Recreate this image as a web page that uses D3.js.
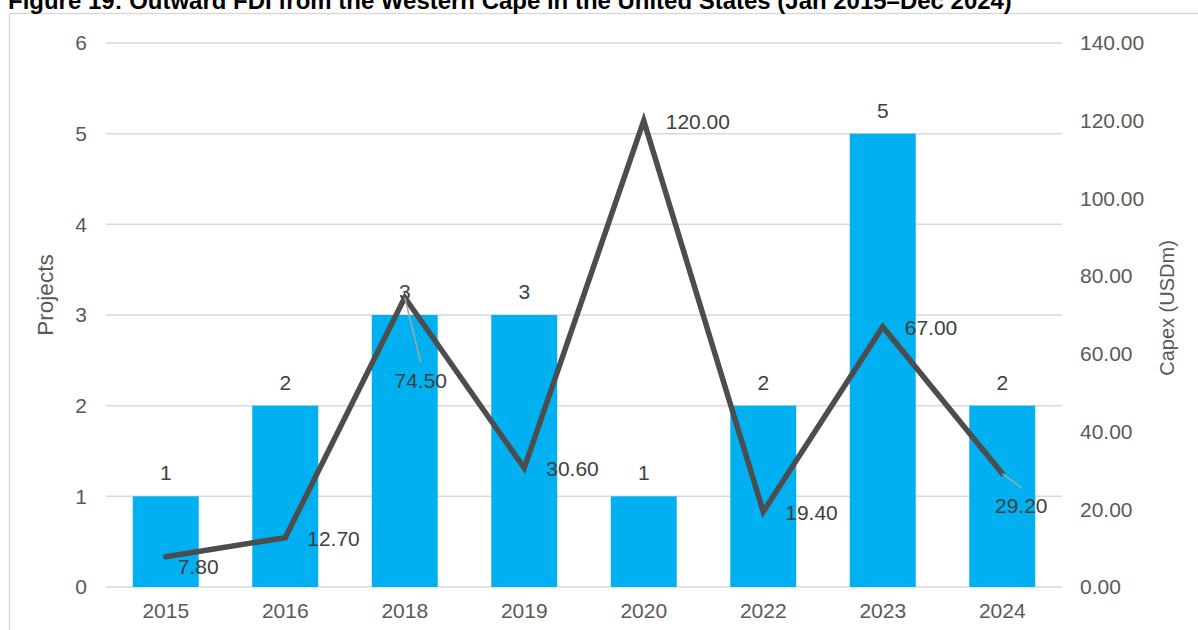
<!DOCTYPE html>
<html>
<head>
<meta charset="utf-8">
<script src="https://cdn.jsdelivr.net/npm/d3@7"></script>
<style>
  html, body { margin: 0; padding: 0; background: #ffffff; }
  svg { display: block; font-family: "Liberation Sans", Arial, sans-serif; }
</style>
</head>
<body>
<svg id="chart" width="1198" height="630"></svg>
<script>
// Years with outward FDI projects
const years = ["2015", "2016", "2018", "2019", "2020", "2022", "2023", "2024"];
// Number of projects per year (bars, left axis)
const projects = [1, 2, 3, 3, 1, 2, 5, 2];
// Capital expenditure in USD millions (line, right axis)
const capex = [7.8, 12.7, 74.5, 30.6, 120.0, 19.4, 67.0, 29.2];
// Axis ticks
const projectTicks = [0, 1, 2, 3, 4, 5, 6];
const capexTicks = [0, 20, 40, 60, 80, 100, 120, 140];

const title = "Figure 19: Outward FDI from the Western Cape in the United States (Jan 2015\u2013Dec 2024)";

const svg = d3.select("#chart");
const plot = { left: 106, right: 1062, top: 43, bottom: 587 };

const x = d3.scaleBand()
  .domain(years)
  .range([plot.left, plot.right])
  .paddingInner(0.448)
  .paddingOuter(0.224);
const yL = d3.scaleLinear().domain([0, 6]).range([plot.bottom, plot.top]);
const yR = d3.scaleLinear().domain([0, 140]).range([plot.bottom, plot.top]);

const tickColor = "#595959";
const labelColor = "#404040";
const fontSize = 21;

// Chart frame
svg.append("rect")
  .attr("x", 9.5).attr("y", 13.5)
  .attr("width", 1200).attr("height", 640)
  .attr("fill", "none").attr("stroke", "#d9d9d9").attr("stroke-width", 1.5);

// Title
const titleText = svg.append("text")
  .attr("x", 8).attr("y", 9)
  .attr("font-weight", "bold")
  .attr("font-size", 18)
  .attr("fill", "#000000")
  .text(title);
const tw = titleText.node().getComputedTextLength();
titleText.attr("font-size", 18 * 1004 / tw);

// Gridlines
svg.append("g")
  .selectAll("line")
  .data(projectTicks)
  .join("line")
  .attr("x1", plot.left).attr("x2", plot.right)
  .attr("y1", d => yL(d)).attr("y2", d => yL(d))
  .attr("stroke", "#d9d9d9").attr("stroke-width", 1.5);

// Left axis (projects)
const leftAxis = svg.append("g")
  .attr("transform", `translate(${plot.left},0)`)
  .call(d3.axisLeft(yL).tickValues(projectTicks).tickFormat(d3.format("d")).tickSize(0).tickPadding(19));
leftAxis.select(".domain").remove();
leftAxis.selectAll("text")
  .attr("font-size", fontSize).attr("fill", tickColor)
  .attr("font-family", "Liberation Sans, Arial, sans-serif");

// Right axis (capex)
const rightAxis = svg.append("g")
  .attr("transform", `translate(${plot.right},0)`)
  .call(d3.axisRight(yR).tickValues(capexTicks).tickFormat(d3.format(".2f")).tickSize(0).tickPadding(18));
rightAxis.select(".domain").remove();
rightAxis.selectAll("text")
  .attr("font-size", fontSize).attr("fill", tickColor)
  .attr("font-family", "Liberation Sans, Arial, sans-serif");

// Bottom axis (years)
const bottomAxis = svg.append("g")
  .attr("transform", `translate(0,${plot.bottom})`)
  .call(d3.axisBottom(x).tickSize(0).tickPadding(16));
bottomAxis.select(".domain").remove();
bottomAxis.selectAll("text")
  .attr("font-size", fontSize).attr("fill", tickColor)
  .attr("font-family", "Liberation Sans, Arial, sans-serif");

// Axis titles
svg.append("text")
  .attr("transform", `translate(53,295) rotate(-90)`)
  .attr("text-anchor", "middle")
  .attr("font-size", 22.5).attr("fill", tickColor)
  .text("Projects");
svg.append("text")
  .attr("transform", `translate(1174,308) rotate(-90)`)
  .attr("text-anchor", "middle")
  .attr("font-size", 20).attr("fill", tickColor)
  .text("Capex (USDm)");

// Bars
svg.append("g")
  .selectAll("rect")
  .data(years)
  .join("rect")
  .attr("x", d => x(d))
  .attr("width", x.bandwidth())
  .attr("y", (d, i) => yL(projects[i]))
  .attr("height", (d, i) => yL(0) - yL(projects[i]))
  .attr("fill", "#00b0f0");

// Bar value labels
svg.append("g")
  .selectAll("text")
  .data(years)
  .join("text")
  .attr("x", d => x(d) + x.bandwidth() / 2)
  .attr("y", (d, i) => yL(projects[i]) - 16)
  .attr("text-anchor", "middle")
  .attr("font-size", fontSize).attr("fill", labelColor)
  .text((d, i) => projects[i]);

// Capex line
const cx = d => x(d) + x.bandwidth() / 2;
const line = d3.line()
  .x((d, i) => cx(years[i]))
  .y(d => yR(d));
svg.append("path")
  .datum(capex)
  .attr("d", line)
  .attr("fill", "none")
  .attr("stroke", "#4d4d4d")
  .attr("stroke-width", 5.5)
  .attr("stroke-linejoin", "miter")
  .attr("stroke-linecap", "round");

// Capex labels: placed right of the point by default; a few are moved off the line
// with a leader line back to their point.
const moved = {
  "2015": { dx: 12, dy: 17, anchor: "start", leader: false },
  "2018": { dx: 16, dy: 90, anchor: "middle", leader: true },
  "2024": { dx: 19, dy: 39, anchor: "middle", leader: true }
};
const capexLabels = svg.append("g");
years.forEach((yr, i) => {
  const px = cx(yr), py = yR(capex[i]);
  const m = moved[yr];
  if (m && m.leader) {
    capexLabels.append("line")
      .attr("x1", px).attr("y1", py)
      .attr("x2", px + m.dx).attr("y2", py + m.dy - 25)
      .attr("stroke", "#a6a6a6").attr("stroke-width", 1.5);
  }
  capexLabels.append("text")
    .attr("x", m ? px + m.dx : px + 22)
    .attr("y", m ? py + m.dy : py + 8)
    .attr("text-anchor", m ? m.anchor : "start")
    .attr("font-size", fontSize).attr("fill", labelColor)
    .text(d3.format(".2f")(capex[i]));
});
</script>
</body>
</html>
